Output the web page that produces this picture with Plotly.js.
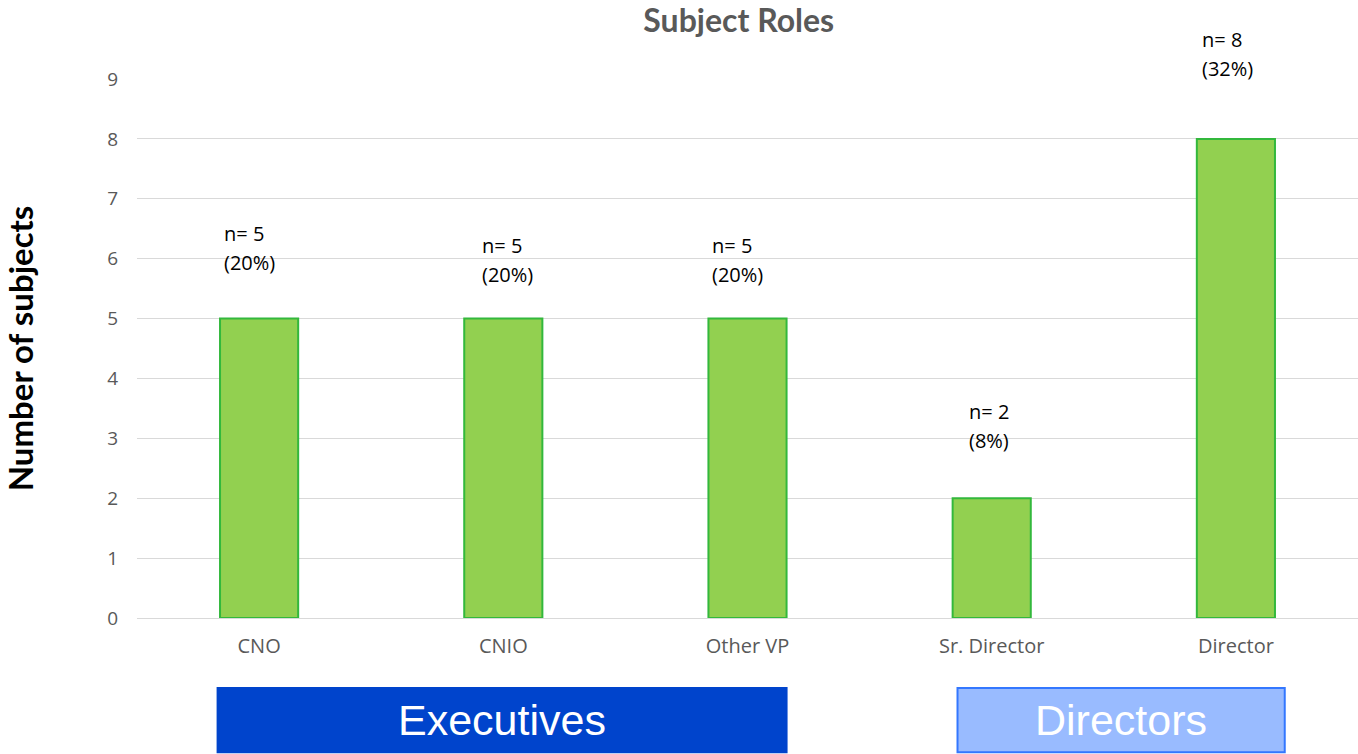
<!DOCTYPE html>
<html>
<head>
<meta charset="utf-8">
<script src="https://cdn.plot.ly/plotly-3.0.1.min.js"></script>
<style>html,body{margin:0;padding:0;background:#fff;}#chart{width:1358px;height:754px;}</style>
</head>
<body>
<div id="chart"></div>
<script>
const categories = ['CNO', 'CNIO', 'Other VP', 'Sr. Director', 'Director'];
const counts = [5, 5, 5, 2, 8];
const percents = ['20%', '20%', '20%', '8%', '32%'];
const labelHeights = [6.19, 5.98, 5.98, 3.22, 9.42];
const groupNames = ['Executives', 'Directors'];

const labelShift = [-37, -23, -38, -25, -36];
const yMax = 9;

const font = 'Lato, "Open Sans", sans-serif';
const tickFont = '"Open Sans", Lato, sans-serif';

const annotations = [];
categories.forEach((c, i) => {
  const lines = ['n= ' + counts[i], '(' + percents[i] + ')'];
  lines.forEach((t, k) => annotations.push({
    x: c, y: labelHeights[i] / yMax, xref: 'x', yref: 'paper',
    text: t, showarrow: false, xanchor: 'left', yanchor: 'middle',
    xshift: labelShift[i], yshift: k === 0 ? 14 : -15,
    font: {family: tickFont, size: 20, color: '#000'}
  }));
});

const boxes = [
  {x0: -0.17, x1: 2.16, fill: '#0044cc', line: '#0044cc', text: groupNames[0]},
  {x0: 2.86, x1: 4.2, fill: '#99bbff', line: '#3377ff', text: groupNames[1]}
];
const shapes = boxes.map(b => ({
  type: 'rect', xref: 'x', yref: 'paper', x0: b.x0, x1: b.x1, y0: -0.249, y1: -0.13,
  fillcolor: b.fill, line: {color: b.line, width: 2}
}));
boxes.forEach(b => annotations.push({
  x: (b.x0 + b.x1) / 2, y: -0.19, xref: 'x', yref: 'paper', text: b.text,
  showarrow: false, xanchor: 'center', yanchor: 'middle',
  font: {family: '"Liberation Sans", Arial, sans-serif', size: 43, color: '#fff'}
}));

const data = [{
  type: 'bar', x: categories, y: counts, width: 0.32,
  marker: {color: '#92d050', line: {color: '#33b83c', width: 2}},
  hoverinfo: 'x+y'
}];

const layout = {
  width: 1358, height: 754,
  margin: {l: 137, r: 0, t: 79, b: 136},
  paper_bgcolor: '#fff', plot_bgcolor: '#fff',
  showlegend: false,
  title: {text: '<b>Subject Roles</b>', x: 0.544, xanchor: 'center', y: 0.973, yanchor: 'middle',
    font: {family: font, size: 32, color: '#595959'}},
  xaxis: {
    type: 'category', tickfont: {family: tickFont, size: 20, color: '#595959'},
    showgrid: false, zeroline: false, showline: false, ticks: '', ticklabelstandoff: 14
  },
  yaxis: {
    range: [0, yMax], dtick: 1, tick0: 0, showgrid: true, gridcolor: '#d9d9d9', gridwidth: 1,
    zeroline: true, zerolinecolor: '#d9d9d9', zerolinewidth: 1, showline: false,
    ticks: '', ticklabelstandoff: 18,
    tickfont: {family: tickFont, size: 19, color: '#595959'},
    title: {text: '<b>Number of subjects</b>', standoff: 64, font: {family: font, size: 33, color: '#000'}},
    automargin: false
  },
  annotations: annotations,
  shapes: shapes
};

Plotly.newPlot('chart', data, layout, {displayModeBar: false, staticPlot: true});
</script>
</body>
</html>
